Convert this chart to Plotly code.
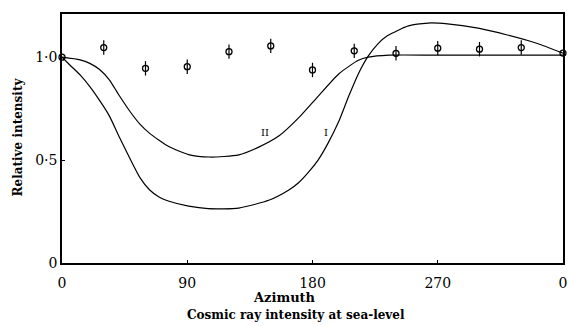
import plotly.graph_objects as go

# Curve I (theoretical)
curve1_az = [0, 6, 13, 20, 27, 34, 41, 49, 56, 63, 70, 77, 91, 105, 127, 149, 163, 170, 177, 184, 191, 199, 206, 213, 220, 227, 234, 249, 263, 277, 299, 320, 341, 360]
curve1_val = [1.0, 0.96, 0.914, 0.857, 0.79, 0.715, 0.615, 0.505, 0.415, 0.355, 0.32, 0.30, 0.276, 0.264, 0.267, 0.306, 0.355, 0.39, 0.44, 0.50, 0.58, 0.69, 0.81, 0.92, 1.005, 1.065, 1.105, 1.152, 1.166, 1.162, 1.141, 1.108, 1.068, 1.02]

# Curve II (theoretical)
curve2_az = [0, 13, 20, 27, 34, 41, 49, 56, 63, 77, 91, 106, 127, 141, 156, 170, 184, 199, 213, 220, 235, 270, 320, 360]
curve2_val = [1.0, 0.987, 0.97, 0.94, 0.89, 0.815, 0.735, 0.675, 0.63, 0.565, 0.527, 0.515, 0.525, 0.562, 0.618, 0.705, 0.81, 0.92, 0.985, 1.0, 1.01, 1.01, 1.01, 1.01]

# Observed points
obs_az = [0, 30, 60, 90, 120, 150, 180, 210, 240, 270, 300, 330, 360]
obs_val = [1.0, 1.047, 0.946, 0.954, 1.027, 1.055, 0.938, 1.031, 1.019, 1.044, 1.039, 1.047, 1.02]
obs_err = [0.0, 0.035, 0.035, 0.035, 0.035, 0.035, 0.035, 0.035, 0.035, 0.035, 0.035, 0.035, 0.0]

x_ticks = [0, 90, 180, 270, 360]
x_ticktext = ["0", "90", "180", "270", "0"]
y_ticks = [0, 0.5, 1.0]
y_ticktext = ["0", "0·5", "1·0"]

FONT = "DejaVu Serif"

fig = go.Figure()
fig.add_trace(go.Scatter(x=curve1_az, y=curve1_val, mode="lines", cliponaxis=False,
                         line=dict(color="black", width=1.2, shape="spline", smoothing=0.6),
                         showlegend=False, hoverinfo="skip"))
fig.add_trace(go.Scatter(x=curve2_az, y=curve2_val, mode="lines", cliponaxis=False,
                         line=dict(color="black", width=1.2, shape="spline", smoothing=0.6),
                         showlegend=False, hoverinfo="skip"))
fig.add_trace(go.Scatter(x=obs_az, y=obs_val, mode="markers", cliponaxis=False,
                         marker=dict(symbol="circle-open", size=6, color="black", line=dict(width=1.3, color="black")),
                         error_y=dict(type="data", array=obs_err, visible=True, color="black", thickness=1.2, width=0),
                         showlegend=False))

fig.add_annotation(x=146, y=0.632, text="II", showarrow=False,
                   font=dict(family=FONT, size=10, color="#000000"))
fig.add_annotation(x=190, y=0.632, text="I", showarrow=False,
                   font=dict(family=FONT, size=10, color="#000000"))

fig.add_annotation(xref="paper", yref="paper", x=0.445, y=-0.137, xanchor="center", yanchor="middle",
                   text="<b>Azimuth</b>",
                   showarrow=False, font=dict(family=FONT, size=13, color="#000000"))
fig.add_annotation(xref="paper", yref="paper", x=0.468, y=-0.209, xanchor="center", yanchor="middle",
                   text="<b>Cosmic ray intensity at sea-level</b>",
                   showarrow=False, font=dict(family=FONT, size=12, color="#000000"))
fig.add_annotation(xref="paper", yref="paper", x=-0.087, y=0.506, xanchor="center", yanchor="middle",
                   text="<b>Relative intensity</b>",
                   textangle=-90, showarrow=False, font=dict(family=FONT, size=12, color="#000000"))

fig.update_layout(
    width=569, height=326,
    margin=dict(l=62, r=6, t=14, b=63, autoexpand=False),
    paper_bgcolor="white", plot_bgcolor="white",
    font=dict(family=FONT, size=14, color="black"),
    xaxis=dict(range=[0, 360], tickvals=x_ticks, ticktext=x_ticktext, automargin=False,
               showgrid=False, zeroline=False, showline=True, linecolor="black", linewidth=1.5,
               mirror=True, ticks="inside", ticklen=3, tickcolor="black", ticklabelstandoff=6),
    yaxis=dict(range=[0, 1.21], tickvals=y_ticks, ticktext=y_ticktext, automargin=False,
               showgrid=False, zeroline=False, showline=True, linecolor="black", linewidth=1.5,
               mirror=True, ticks="inside", ticklen=3, tickcolor="black"),
)

fig.write_html("out.html", config={"responsive": False, "displayModeBar": False},
               post_script="document.body.style.margin='0';document.body.style.padding='0';")
